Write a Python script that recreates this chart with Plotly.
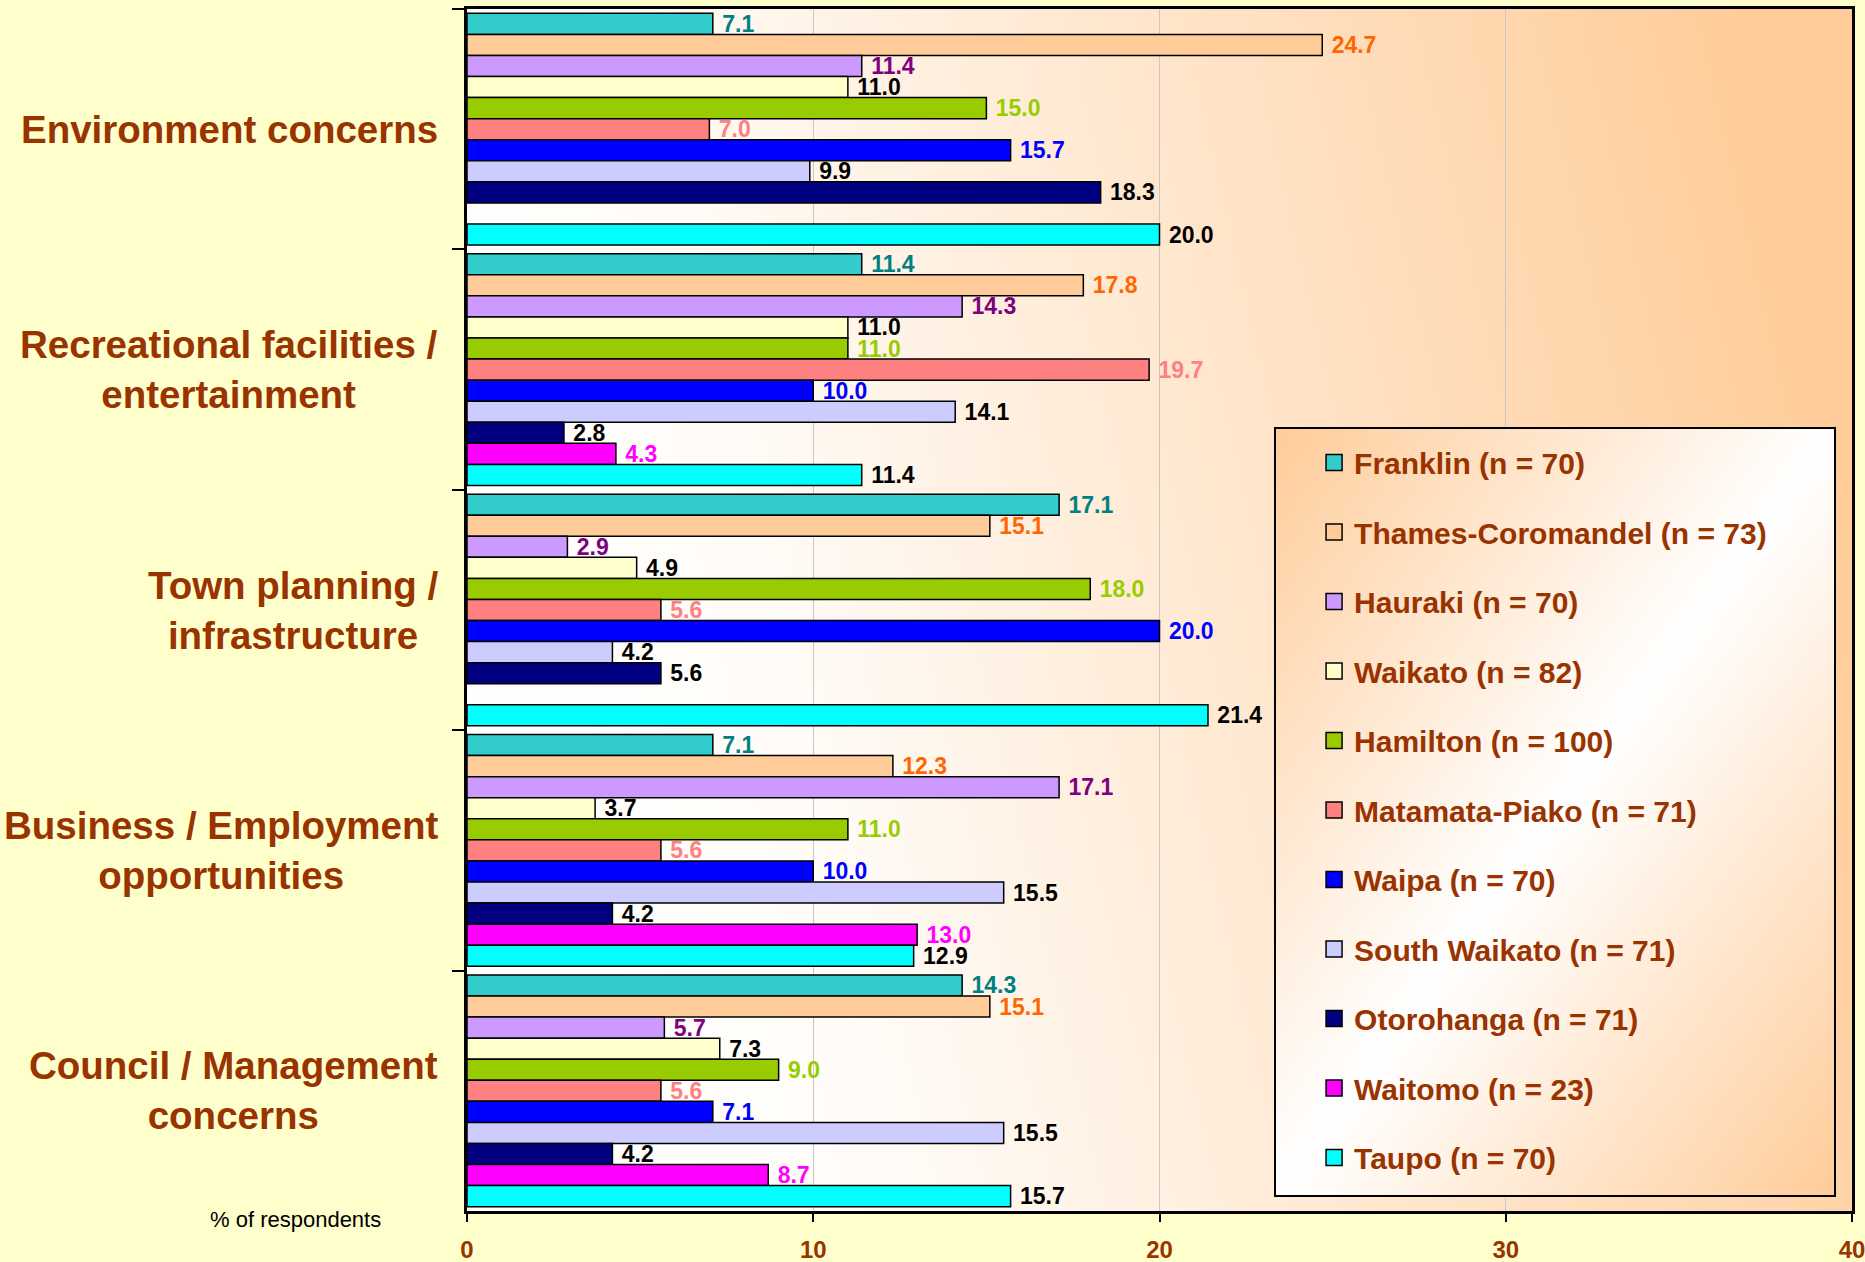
import base64

import plotly.graph_objects as go

# ---- data -------------------------------------------------------------
categories = [
    "Environment concerns",
    "Recreational facilities /<br>entertainment",
    "Town planning /<br>infrastructure",
    "Business / Employment<br>opportunities",
    "Council / Management<br>concerns",
]

districts = [
    "Franklin (n = 70)",
    "Thames-Coromandel (n = 73)",
    "Hauraki (n = 70)",
    "Waikato (n = 82)",
    "Hamilton (n = 100)",
    "Matamata-Piako (n = 71)",
    "Waipa (n = 70)",
    "South Waikato (n = 71)",
    "Otorohanga (n = 71)",
    "Waitomo (n = 23)",
    "Taupo (n = 70)",
]

franklin = [7.1, 11.4, 17.1, 7.1, 14.3]
thames_coromandel = [24.7, 17.8, 15.1, 12.3, 15.1]
hauraki = [11.4, 14.3, 2.9, 17.1, 5.7]
waikato = [11.0, 11.0, 4.9, 3.7, 7.3]
hamilton = [15.0, 11.0, 18.0, 11.0, 9.0]
matamata_piako = [7.0, 19.7, 5.6, 5.6, 5.6]
waipa = [15.7, 10.0, 20.0, 10.0, 7.1]
south_waikato = [9.9, 14.1, 4.2, 15.5, 15.5]
otorohanga = [18.3, 2.8, 5.6, 4.2, 4.2]
waitomo = [None, 4.3, None, 13.0, 8.7]
taupo = [20.0, 11.4, 21.4, 12.9, 15.7]

series = [franklin, thames_coromandel, hauraki, waikato, hamilton,
          matamata_piako, waipa, south_waikato, otorohanga, waitomo, taupo]

bar_colors = ["#33CCCC", "#FFCC99", "#CC99FF", "#FFFFCC", "#99CC00", "#FF8080",
              "#0000FF", "#CCCCFF", "#000080", "#FF00FF", "#00FFFF"]
label_colors = ["#008080", "#FF6600", "#800080", "#000000", "#99CC00", "#FF8080",
                "#0000FF", "#000000", "#000000", "#FF00FF", "#000000"]

x_ticks = [0, 10, 20, 30, 40]

# ---- styling ----------------------------------------------------------
FONT = "Liberation Sans, Arial, sans-serif"
BROWN = "#993300"
W, H = 1865, 1262
M = dict(l=467, r=13, t=9, b=51, autoexpand=False)
PW, PH = W - M["l"] - M["r"], H - M["t"] - M["b"]


def svg_uri(svg):
    return "data:image/svg+xml;base64," + base64.b64encode(svg.encode()).decode()


plot_grad = svg_uri(
    "<svg xmlns='http://www.w3.org/2000/svg' width='100' height='100' preserveAspectRatio='none'>"
    "<defs><linearGradient id='g' x1='0' y1='0.6' x2='1' y2='0.4'>"
    "<stop offset='0' stop-color='#FFFFFF'/><stop offset='0.22' stop-color='#FFFCF8'/>"
    "<stop offset='1' stop-color='#FFCC99'/></linearGradient></defs>"
    "<rect width='100' height='100' fill='url(#g)'/></svg>"
)
legend_grad = svg_uri(
    "<svg xmlns='http://www.w3.org/2000/svg' width='100' height='100' preserveAspectRatio='none'>"
    "<defs><linearGradient id='g' x1='0' y1='0' x2='1' y2='1'>"
    "<stop offset='0' stop-color='#FFCC99'/><stop offset='0.5' stop-color='#FFFFFF'/>"
    "<stop offset='1' stop-color='#FFCC99'/></linearGradient></defs>"
    "<rect width='100' height='100' fill='url(#g)'/></svg>"
)

fig = go.Figure()
for i, (name, vals) in enumerate(zip(districts, series)):
    fig.add_trace(go.Bar(
        name=name,
        y=categories,
        x=vals,
        orientation="h",
        legendgroup=name,
        showlegend=False,
        marker=dict(color=bar_colors[i], line=dict(color="black", width=1.5)),
        texttemplate="&nbsp;%{x:.1f}",
        textposition="outside",
        constraintext="none",
        cliponaxis=False,
        textfont=dict(family=FONT, size=23, color=label_colors[i], weight="bold"),
    ))
    # bigger square swatch for the legend
    fig.add_trace(go.Scatter(
        name=name, x=[None], y=[None], mode="markers", legendgroup=name,
        marker=dict(symbol="square", size=16, color=bar_colors[i],
                    line=dict(color="black", width=1.5)),
    ))

# category labels: right-anchored block, lines centred
for cat in categories:
    fig.add_annotation(
        x=-0.0195, xref="paper", y=cat, yref="y",
        text=cat, showarrow=False, xanchor="right", yanchor="middle", align="center",
        font=dict(family=FONT, size=38.5, color=BROWN, weight="bold"),
    )

fig.add_annotation(
    x=(295 - M["l"]) / PW, xref="paper", y=-0.0067, yref="paper",
    text="% of respondents", showarrow=False, xanchor="center", yanchor="middle",
    font=dict(family=FONT, size=22, color="black"),
)

# legend box (gradient + frame), sits under the legend itself
lx0, lx1 = (1275 - M["l"]) / PW, (1835 - M["l"]) / PW
ly0, ly1 = (H - M["b"] - 1196) / PH, (H - M["b"] - 428) / PH
fig.add_layout_image(
    source=legend_grad, xref="paper", yref="paper", x=lx0, y=ly1,
    sizex=lx1 - lx0, sizey=ly1 - ly0, sizing="stretch", layer="above",
    xanchor="left", yanchor="top",
)
fig.add_shape(type="rect", xref="paper", yref="paper", x0=lx0, x1=lx1, y0=ly0, y1=ly1,
              line=dict(color="black", width=2), layer="above")

fig.add_layout_image(
    source=plot_grad, xref="paper", yref="paper", x=0, y=1, sizex=1, sizey=1,
    sizing="stretch", layer="below", xanchor="left", yanchor="top",
)

fig.update_layout(
    width=W, height=H,
    margin=M,
    paper_bgcolor="#FFFFCC",
    plot_bgcolor="white",
    barmode="group",
    bargap=0.036,
    bargroupgap=0,
    font=dict(family=FONT),
    legend=dict(
        x=0.6116, y=0.6444, xanchor="left", yanchor="top",
        bgcolor="rgba(0,0,0,0)", borderwidth=0,
        traceorder="grouped", tracegroupgap=27.5,
        font=dict(family=FONT, size=30, color=BROWN, weight="bold"),
    ),
)
fig.update_xaxes(
    range=[0, 40], tickvals=x_ticks, ticks="outside", ticklen=8, tickwidth=2,
    tickcolor="black", showline=True, linecolor="black", linewidth=2.5, mirror=True,
    showgrid=True, gridcolor="#C8C8C8", gridwidth=1, zeroline=False,
    tickfont=dict(family=FONT, size=24, color=BROWN, weight="bold"),
    ticklabelstandoff=7, ticklabeloverflow="allow",
)
fig.update_yaxes(
    type="category", categoryorder="array", categoryarray=categories,
    autorange="reversed", showticklabels=False, tickson="boundaries",
    ticks="outside", ticklen=12, tickwidth=2, tickcolor="black",
    showline=True, linecolor="black", linewidth=2.5, mirror=True, showgrid=False,
)

fig.write_html("out.html", config={"displayModeBar": False},
               post_script="document.body.style.margin='0';")
